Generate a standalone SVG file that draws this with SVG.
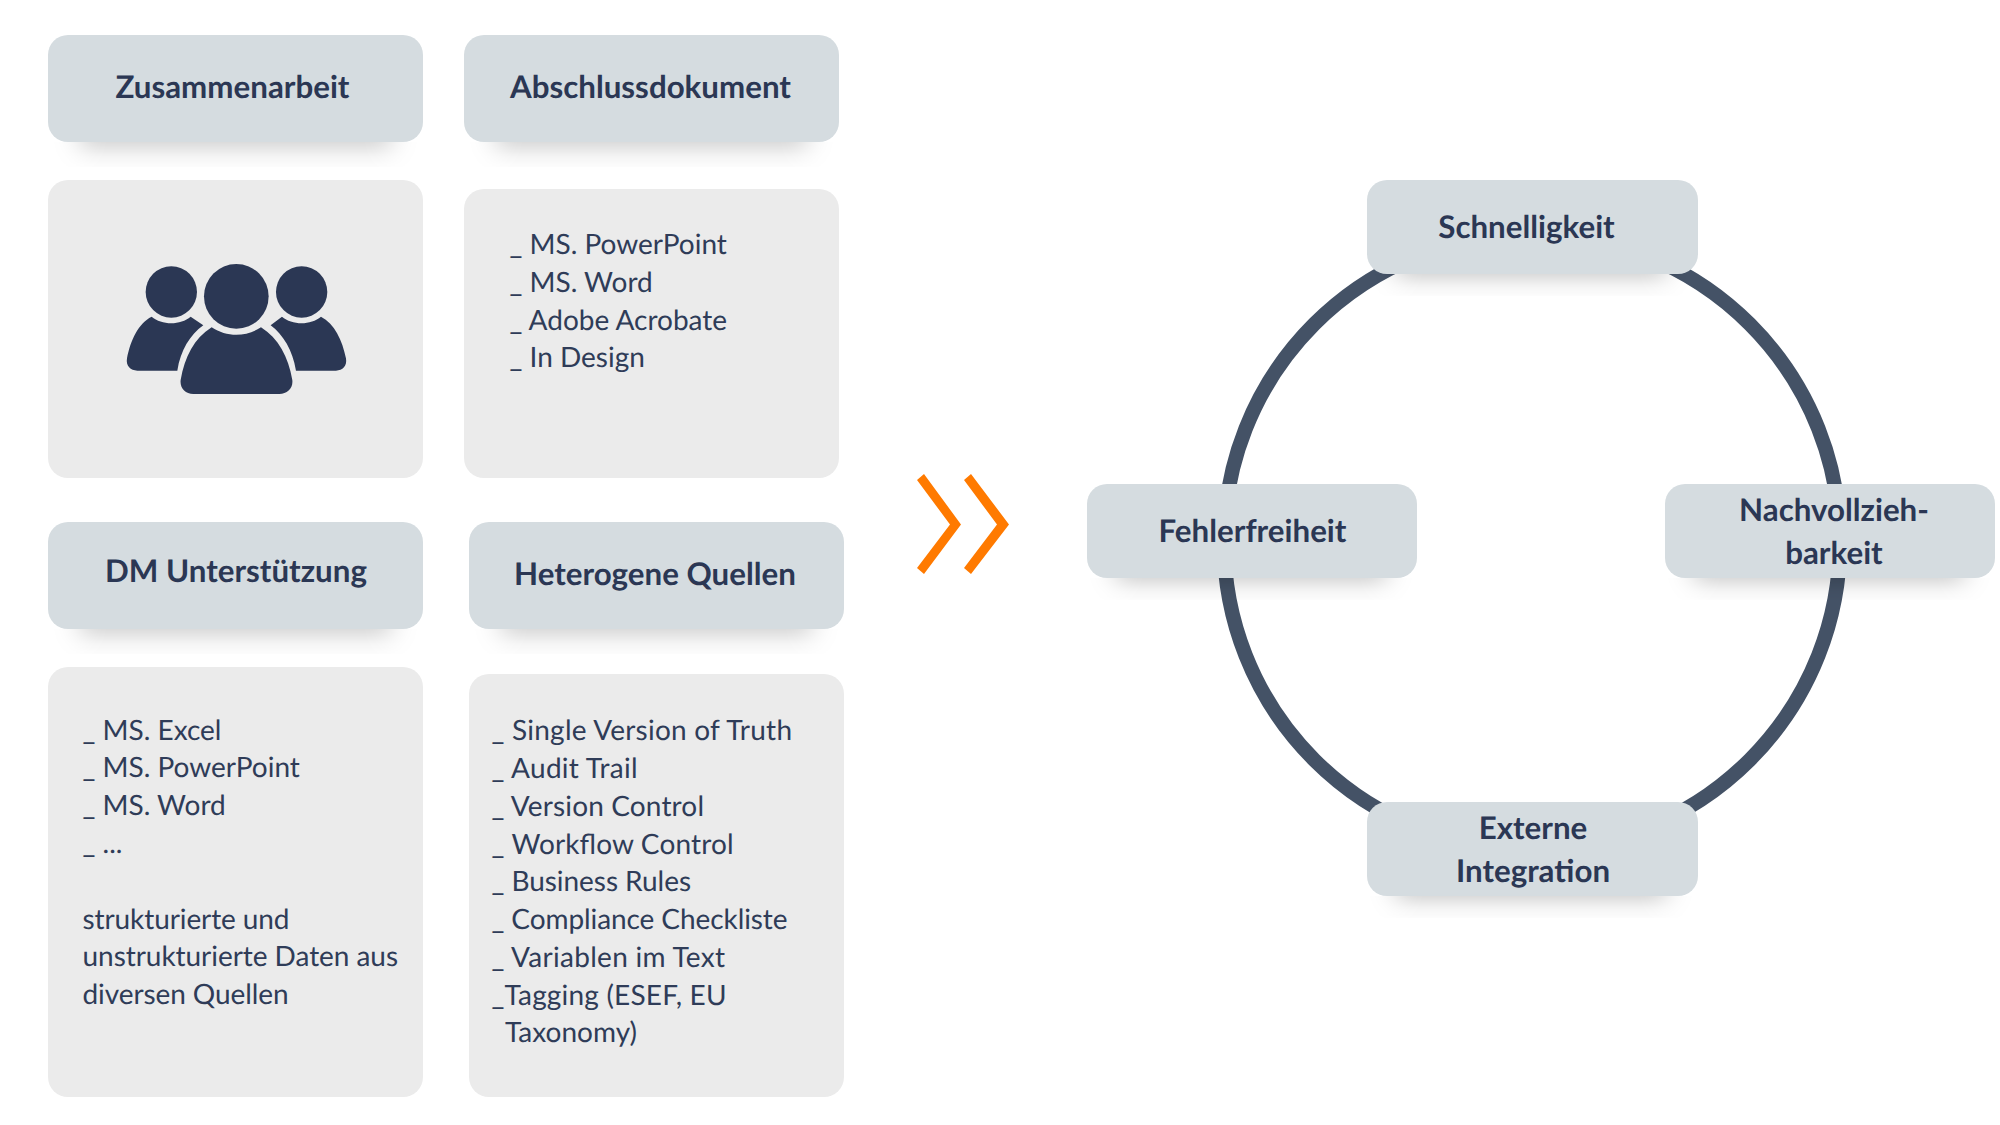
<svg xmlns="http://www.w3.org/2000/svg" width="2000" height="1125" viewBox="0 0 2000 1125">
<style>
.hd{fill:#d5dce0}
.bd{fill:#ebebeb}
.sh{fill:url(#sg);filter:url(#sb)}
text{font-family:Lato,"Liberation Sans",sans-serif;fill:#2b3754;text-rendering:geometricPrecision}
.t{font-size:31.3px;font-weight:700;text-anchor:middle}
.b{font-size:28px;fill:#2f3c58}
.i{fill:#2b3754}
</style>
<defs>
<linearGradient id="sg" x1="0" y1="0" x2="0" y2="1"><stop offset="0" stop-color="#000" stop-opacity=".14"/><stop offset=".6" stop-color="#000" stop-opacity=".04"/><stop offset="1" stop-color="#000" stop-opacity=".01"/></linearGradient>
<filter id="sb" x="-15%" y="0" width="130%" height="100%"><feGaussianBlur stdDeviation="13 0"/></filter>
</defs>
<rect width="2000" height="1125" fill="#fff"/>
<g id="connectors">
<circle cx="1532" cy="542" r="308" fill="none" stroke="#445266" stroke-width="14.500"/>
</g>
<g id="n-zusammenarbeit">
<rect class="sh" x="80" y="142" width="311" height="25"/>
<rect class="hd" x="48" y="35" width="375" height="107" rx="20"/>
<text class="t" x="232.500" y="98">Zusammenarbeit</text>
</g>
<g id="n-zusammenarbeit-body">
<rect class="bd" x="48" y="180" width="375" height="298" rx="20"/>
<g class="i" transform="translate(30 20) scale(.3333)">
<circle cx="424" cy="816" r="77"/><circle cx="815" cy="816" r="77"/><circle cx="619" cy="829" r="97"/>
<path d="M365 890C395 916 452 916 482 890L520 916C480 945 452 990 442 1052H322C302 1052 287 1038 291 1015C302 960 325 910 365 890Z"/>
<path d="M873 890C843 916 786 916 756 890L722 916C760 945 788 990 798 1052H918C938 1052 952 1038 948 1015C937 960 913 910 873 890Z"/>
<path d="M545 922C590 952 648 952 693 922C745 955 775 1010 787 1080C790 1105 772 1122 748 1122H490C466 1122 449 1105 452 1080C464 1010 493 955 545 922Z"/>
</g>
</g>
<g id="n-abschluss">
<rect class="sh" x="496" y="142" width="311" height="25"/>
<rect class="hd" x="464" y="35" width="375" height="107" rx="20"/>
<text class="t" x="650.500" y="98">Abschlussdokument</text>
</g>
<g id="n-abschluss-body">
<rect class="bd" x="464" y="189" width="375" height="289" rx="20"/>
<text class="b"><tspan x="509.500" y="253.500">_ MS. PowerPoint</tspan><tspan x="509.500" y="291.500">_ MS. Word</tspan><tspan x="509.500" y="329.500">_ Adobe Acrobate</tspan><tspan x="509.500" y="366.500">_ In Design</tspan></text>
</g>
<g id="n-dm">
<rect class="sh" x="80" y="629" width="311" height="25"/>
<rect class="hd" x="48" y="522" width="375" height="107" rx="20"/>
<text class="t" x="236" y="582">DM Unterstützung</text>
</g>
<g id="n-dm-body">
<rect class="bd" x="48" y="667" width="375" height="430" rx="20"/>
<text class="b"><tspan x="82.500" y="739.500">_ MS. Excel</tspan><tspan x="82.500" y="776.500">_ MS. PowerPoint</tspan><tspan x="82.500" y="814.500">_ MS. Word</tspan><tspan x="82.500" y="852.500">_ ...</tspan><tspan x="82.500" y="928.500" textLength="207">strukturierte und</tspan><tspan x="82.500" y="965.500" textLength="315.500">unstrukturierte Daten aus</tspan><tspan x="82.500" y="1003.500" textLength="206">diversen Quellen</tspan></text>
</g>
<g id="n-heterogene">
<rect class="sh" x="501" y="629" width="311" height="25"/>
<rect class="hd" x="469" y="522" width="375" height="107" rx="20"/>
<text class="t" x="655" y="585">Heterogene Quellen</text>
</g>
<g id="n-heterogene-body">
<rect class="bd" x="469" y="674" width="375" height="423" rx="20"/>
<text class="b"><tspan x="491.500" y="739.500" textLength="300.500">_ Single Version of Truth</tspan><tspan x="491.500" y="777.500" textLength="146">_ Audit Trail</tspan><tspan x="491.500" y="815.500" textLength="212.500">_ Version Control</tspan><tspan x="491.500" y="853.500" textLength="242">_ Workflow Control</tspan><tspan x="491.500" y="890.500" textLength="199.500">_ Business Rules</tspan><tspan x="491.500" y="928.500" textLength="296">_ Compliance Checkliste</tspan><tspan x="491.500" y="966.500" textLength="233.500">_ Variablen im Text</tspan><tspan x="491.500" y="1004.500" textLength="235">_Tagging (ESEF, EU</tspan><tspan x="505" y="1041.500">Taxonomy)</tspan></text>
</g>
<g id="chevrons" fill="#ff7a00">
<path d="M917 480L924 474L961 524.500L924 574L917 568L950 524.500Z"/>
<path d="M964 480L971 474L1009 524.500L971 574L964 568L997 524.500Z"/>
</g>
<g id="n-schnelligkeit">
<rect class="sh" x="1396" y="274" width="270" height="22"/>
<rect class="hd" x="1367" y="180" width="331" height="94" rx="20"/>
<text class="t" x="1526.500" y="238">Schnelligkeit</text>
</g>
<g id="n-fehlerfreiheit">
<rect class="sh" x="1116" y="578" width="270" height="22"/>
<rect class="hd" x="1087" y="484" width="330" height="94" rx="20"/>
<text class="t" x="1252.500" y="542">Fehlerfreiheit</text>
</g>
<g id="n-nachvollzieh">
<rect class="sh" x="1694" y="578" width="270" height="22"/>
<rect class="hd" x="1665" y="484" width="330" height="94" rx="20"/>
<text class="t"><tspan x="1834" y="521">Nachvollzieh-</tspan><tspan x="1834" y="564">barkeit</tspan></text>
</g>
<g id="n-externe">
<rect class="sh" x="1396" y="896" width="270" height="22"/>
<rect class="hd" x="1367" y="802" width="331" height="94" rx="20"/>
<text class="t"><tspan x="1533" y="839">Externe</tspan><tspan x="1533" y="882">Integration</tspan></text>
</g>
</svg>
